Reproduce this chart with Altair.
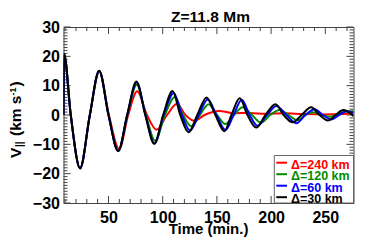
import altair as alt
import pandas as pd

# ---------------- data ----------------
t_black = [8.5, 9.0, 15.2, 23.8, 32.8, 41.4, 50.0, 58.9, 67.2, 75.8, 83.9, 92.2, 100.4,
           109.1, 116.2, 123.9, 131.9, 140.5, 148.6, 156.9, 163.4, 171.0, 178.2, 186.2,
           194.8, 204.0, 211.5, 220.0, 228.1, 237.0, 244.7, 252.4, 259.5, 266.6, 276.0]
v_black = [0, 20.8, 0, -18.2, 0, 15.1, 0, -12.3, 0, 11.4, 0, -9.8, 0,
           8.2, 0, -5.9, 0, 6.0, 0, -5.5, 0, 5.7, 0, -4.3,
           0, 3.7, 0, -2.5, 0, 2.6, 0, -1.9, 0, 1.7, -0.3]

t_blue = [8.5, 9.0, 15.2, 23.8, 32.8, 41.4, 50.0, 59.0, 67.3, 76.0, 84.1, 92.5, 100.9,
          110.2, 117.7, 125.2, 133.3, 141.5, 149.6, 157.8, 165.4, 172.9, 180.2, 187.4,
          196.2, 205.0, 214.1, 223.2, 231.7, 240.1, 247.8, 255.5, 262.6, 269.7, 276.0]
v_blue = [0, 20.8, 0, -18.2, 0, 15.1, 0, -12.3, 0, 11.1, 0, -9.7, 0,
          7.5, 0, -5.3, 0, 5.3, 0, -5.1, 0, 5.2, 0, -3.7,
          0, 3.1, 0, -2.8, 0, 2.0, 0, -1.5, 0, 1.3, 0.8]

t_green = [8.5, 9.0, 15.2, 23.8, 32.8, 41.4, 50.1, 59.0, 67.5, 76.0, 84.5, 93.1, 102.0,
           111.3, 118.8, 126.1, 134.3, 142.4, 150.1, 157.8, 165.8, 173.8, 182.3, 190.8,
           199.2, 207.7, 216.1, 224.6, 231.4, 238.2, 246.0, 254.0, 262.0, 270.0, 276.0]
v_green = [0, 20.8, 0, -18.2, 0, 15.0, 0, -12.2, 0, 10.3, 0, -8.8, 0,
           6.1, 0, -3.8, 0, 3.7, 0, -3.1, 0, 2.6, 0, -2.6,
           0, 1.7, 0, -1.8, 0, 0.9, 0.1, -0.6, 0.4, 1.3, 1.3]

t_red = [8.5, 9.0, 15.2, 23.8, 32.8, 41.6, 50.4, 59.9, 68.2, 76.5, 85.5, 94.3, 104.0,
         113.2, 121.0, 129.2, 138.5, 152.3, 165.0, 180.0, 195.0, 212.0, 230.0, 250.0,
         265.0, 276.0]
v_red = [0, 20.8, 0, -18.1, 0, 14.8, 0, -11.6, 0, 8.1, 0, -5.0, 0,
         3.8, 0, -2.0, 0, 1.4, 0.6, 0.7, 0.4, 0.6, 0.3, 0.2,
         0.3, 0.6]

series_labels = ["\u0394=240 km", "\u0394=120 km", "\u0394=60 km", "\u0394=30 km"]
series_colors = ["#ff0000", "#008c00", "#0000ff", "#000000"]
series_t = [t_red, t_green, t_blue, t_black]
series_v = [v_red, v_green, v_blue, v_black]

x_major_ticks = [50, 100, 150, 200, 250]
x_minor_ticks = [t for t in range(10, 280, 10) if t % 50 != 0]
y_major_ticks = [-30, -20, -10, 0, 10, 20, 30]
y_minor_ticks = [v for v in range(-29, 30) if v % 10 != 0]

title_text = "Z=11.8 Mm"
x_title = "Time (min.)"
# y title pieces: V, subscript ||, "(km s", superscript -1, ")"
y_title_parts = ["V", "||", "(km s", "-1", ")"]

# ---------------- build ----------------
rows = []
for lab, ts, vs in zip(series_labels, series_t, series_v):
    for t, v in zip(ts, vs):
        rows.append({"series": lab, "t": t, "v": v})
df = pd.DataFrame(rows)

W, H = 290, 176
FONT = "Liberation Sans"
TICK = "#444444"

xscale = alt.Scale(domain=[8.5, 276], nice=False, zero=False)
yscale = alt.Scale(domain=[-30, 30], nice=False, zero=False)

x_axis = alt.Axis(values=x_major_ticks, ticks=False, grid=False, domain=False,
                  labelFont=FONT, labelFontSize=16, labelFontWeight="bold",
                  labelColor="black", labelPadding=6, labelFlush=False, title=None)
y_axis = alt.Axis(values=y_major_ticks, ticks=False, grid=False, domain=False,
                  labelFont=FONT, labelFontSize=16, labelFontWeight="bold",
                  labelColor="black", labelPadding=4, labelFlush=False,
                  labelExpr="replace(datum.label, '-', '\u2212')", title=None)

X = alt.X("t:Q", scale=xscale, axis=x_axis)
Y = alt.Y("v:Q", scale=yscale, axis=y_axis)

layers = []

# tick marks (inward, on all four sides)
def xticks(vals, length):
    d = pd.DataFrame({"t": vals})
    bot = alt.Chart(d).mark_rule(color=TICK, strokeWidth=1).encode(
        x=X, y=alt.value(H), y2=alt.value(H - length))
    top = alt.Chart(d).mark_rule(color=TICK, strokeWidth=1).encode(
        x=X, y=alt.value(0), y2=alt.value(length))
    return [bot, top]

def yticks(vals, length):
    d = pd.DataFrame({"v": vals})
    left = alt.Chart(d).mark_rule(color=TICK, strokeWidth=1).encode(
        y=Y, x=alt.value(0), x2=alt.value(length))
    right = alt.Chart(d).mark_rule(color=TICK, strokeWidth=1).encode(
        y=Y, x=alt.value(W), x2=alt.value(W - length))
    return [left, right]

layers += xticks(x_major_ticks, 7) + xticks(x_minor_ticks, 4)
layers += yticks(y_major_ticks, 7) + yticks(y_minor_ticks, 4)

# curves
for lab, col in zip(series_labels, series_colors):
    layers.append(
        alt.Chart(df).transform_filter(alt.datum.series == lab)
        .mark_line(strokeWidth=2, interpolate="monotone", color=col, clip=True)
        .encode(x=X, y=Y)
    )

one = alt.Data(values=[{}])

# legend box
layers.append(
    alt.Chart(one).mark_rect(fill="white", stroke="#666666", strokeWidth=1).encode(
        x=alt.value(210.8), x2=alt.value(W), y=alt.value(128.5), y2=alt.value(H))
)
for i, (lab, col) in enumerate(zip(series_labels, series_colors)):
    yc = 137 + 11.5 * i
    layers.append(
        alt.Chart(one).mark_rule(color=col, strokeWidth=2).encode(
            x=alt.value(212.8), x2=alt.value(223.5), y=alt.value(yc - 1.3))
    )
    layers.append(
        alt.Chart(one).mark_text(text=lab, font=FONT, fontSize=12.5, fontWeight="bold",
                                 color=col, align="left", baseline="middle",
                                 clip=True).encode(
            x=alt.value(227.5), y=alt.value(yc + 0.5))
    )

# chart title and x-axis title
layers.append(
    alt.Chart(one).mark_text(text=title_text, font=FONT, fontSize=15.5, fontWeight="bold",
                             color="black", align="center", baseline="alphabetic").encode(
        x=alt.value(147), y=alt.value(-5.5))
)
layers.append(
    alt.Chart(one).mark_text(text=x_title, font=FONT, fontSize=15, fontWeight="bold",
                             color="black", align="center", baseline="alphabetic").encode(
        x=alt.value(145), y=alt.value(207))
)

# y-axis title built from pieces (rotated)
y_piece_style = [(15.5, -43, 131), (10, -40.5, 120), (15.5, -43, 109),
                 (9, -47.5, 68.5), (15.5, -43, 59.5)]
for txt, (fs, px, py) in zip(y_title_parts, y_piece_style):
    layers.append(
        alt.Chart(one).mark_text(text=txt, font=FONT, fontSize=fs, fontWeight="bold",
                                 color="black", align="left", baseline="alphabetic",
                                 angle=270).encode(x=alt.value(px), y=alt.value(py))
    )

chart = alt.layer(*layers).properties(
    width=W, height=H,
    autosize=alt.AutoSizeParams(type="none"),
    padding={"left": 55.5, "top": 19, "right": 12, "bottom": 34},
).configure_view(stroke="#444444", strokeWidth=1)

chart.save("out.html", embed_options={"renderer": "svg", "actions": False})
